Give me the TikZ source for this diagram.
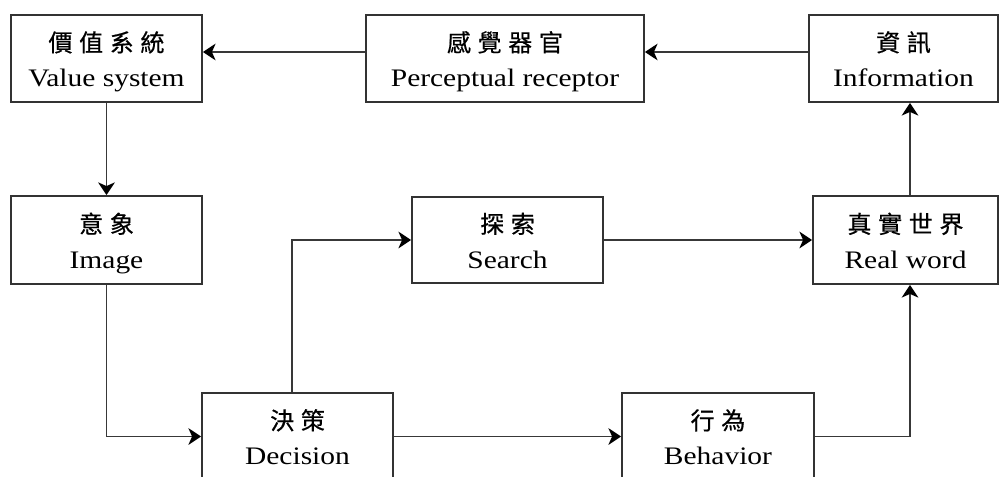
\documentclass[tikz,border=0pt]{standalone}
\usepackage{fontspec}
\setmainfont[FakeStretch=1.17]{Liberation Serif}
\newfontfamily\cjkfont[FakeBold=0.6]{Noto Sans CJK TC}
\usetikzlibrary{arrows.meta}

% spacing between the Chinese characters of a label
\newcommand\gap{\kern0.2cm}
% two-line label: Chinese on top, English below, both centred on the node centre
\newcommand\boxtext[2]{%
  \makebox[0pt]{\raisebox{0.21cm}[0pt][0pt]{\fontsize{20.5pt}{21pt}\cjkfont #1}}%
  \makebox[0pt]{\raisebox{-0.84cm}[0pt][0pt]{\fontsize{21.5pt}{23pt}\selectfont #2}}}

\tikzset{
  stage/.style={draw=black!80, line width=0.055cm, fill=white, inner sep=0pt,
                minimum height=2.61cm, minimum width=5.73cm},
  flow/.style={draw=black!78, line width=0.05cm,
               -{Stealth[length=0.38cm, width=0.5cm, inset=0.11cm, color=black]}},
}

\begin{document}
\begin{tikzpicture}[x=0.03cm, y=-0.03cm]
  \fill[white] (0,0) rectangle (1000,477);
  \useasboundingbox (0,0) rectangle (1000,477);
  \clip (0,0) rectangle (1000,477);

  % top row
  \node[stage] (val) at (106.5,58.5) {\boxtext{價\gap 值\gap 系\gap 統}{Value system}};
  \node[stage, minimum width=8.34cm] (per) at (505,58.5) {\boxtext{感\gap 覺\gap 器\gap 官}{Perceptual receptor}};
  \node[stage, minimum width=5.67cm] (inf) at (903.5,58.5) {\boxtext{資\gap 訊}{Information}};

  % middle row
  \node[stage, minimum height=2.64cm] (img) at (106.5,240) {\boxtext{意\gap 象}{Image}};
  \node[stage, minimum height=2.58cm] (sea) at (507.5,240) {\boxtext{探\gap 索}{Search}};
  \node[stage, minimum height=2.64cm, minimum width=5.55cm] (rea) at (905.5,240) {\boxtext{真\gap 實\gap 世\gap 界}{Real word}};

  % bottom row
  \node[stage] (dec) at (297.5,436.5) {\boxtext{決\gap 策}{Decision}};
  \node[stage, minimum width=5.76cm] (beh) at (718,436.5) {\boxtext{行\gap 為}{Behavior}};

  % connectors
  \draw[flow] ([yshift=0.195cm]per.west) -- ([yshift=0.195cm]val.east);
  \draw[flow] ([yshift=0.195cm]inf.west) -- ([yshift=0.195cm]per.east);
  \draw[flow] (val.south) -- (img.north);
  \draw[flow] (img.south) |- (dec.west);
  \draw[flow] ([xshift=-0.165cm]dec.north) |- (sea.west);
  \draw[flow] (sea.east) -- (rea.west);
  \draw[flow] (dec.east) -- (beh.west);
  \draw[flow] (beh.east) -| ([xshift=0.135cm]rea.south);
  \draw[flow] ([xshift=0.135cm]rea.north) -- ([xshift=0.135cm]rea.north |- inf.south);
\end{tikzpicture}
\end{document}
